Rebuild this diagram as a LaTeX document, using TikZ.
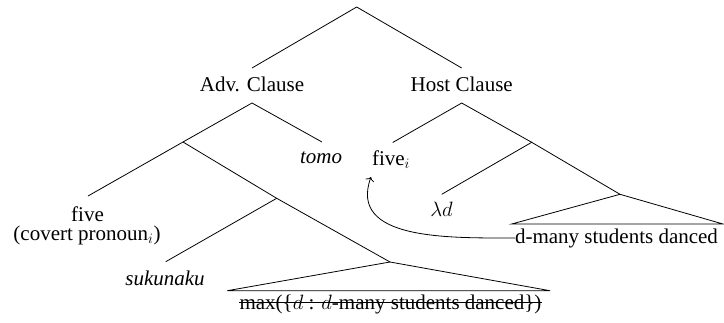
\documentclass[tikz,border=0pt]{standalone}
\usepackage{fontspec}
\setmainfont{Liberation Serif}
\usetikzlibrary{arrows.meta}
\begin{document}
\begin{tikzpicture}[x=1pt,y=-1pt,
  lbl/.style={inner sep=0pt, anchor=base, font=\fontsize{21}{18}\selectfont},
  edge/.style={line width=0.8pt},
  tri/.style={line width=0.8pt},
  strike/.style={line width=0.8pt},
  mvarrow/.style={line width=0.8pt,-{To[length=4pt,width=9pt]}}]
\useasboundingbox (0,0) rectangle (724,322);
% branch points
\coordinate (root) at (356.7,7);
\coordinate (advtop) at (252,68);
\coordinate (hosttop) at (461.7,68);
\coordinate (advapex) at (252,103);
\coordinate (hostapex) at (461.7,103);
\coordinate (advbr) at (183,142);
\coordinate (tomotop) at (322,142);
\coordinate (fivetop) at (88,196);
\coordinate (advbr2) at (276.7,198.3);
\coordinate (suktop) at (165.7,261.7);
\coordinate (maxapex) at (390,262);
\coordinate (maxl) at (227.3,290.7);
\coordinate (maxr) at (550,290.7);
\coordinate (fiveitop) at (392.7,142.5);
\coordinate (hostbr) at (531.7,142.3);
\coordinate (lamtop) at (441.7,194.3);
\coordinate (dmapex) at (620,194.3);
\coordinate (dml) at (511.7,224);
\coordinate (dmr) at (723,224);
\coordinate (arrend) at (371,177);
% labels
\node[lbl] (adv) at (252,91) {Adv. Clause};
\node[lbl] (host) at (461.7,91) {Host Clause};
\node[lbl] (tomo) at (321,163) {\textit{tomo}};
\node[lbl] (fivei) at (391,165) {five$_i$};
\node[lbl] (lam) at (441.5,216) {$\lambda d$};
\node[lbl] (dmany) at (616.5,243) {d-many students danced};
\node[lbl] (five) at (87.5,221) {five};
\node[lbl] (covpro) at (87,240.5) {(covert pronoun$_i$)};
\node[lbl] (suk) at (165,285) {\textit{sukunaku}};
\node[lbl] (max) at (390.5,309) {max(\{$d$ : $d$-many students danced\})};
\draw[strike] ([yshift=6.3pt]max.base west) -- ([yshift=6.3pt]max.base east);
% edges
\draw[edge] (advtop) -- (root) -- (hosttop);
\draw[edge] (advbr) -- (advapex) -- (tomotop);
\draw[edge] (fivetop) -- (advbr) -- (advbr2);
\draw[edge] (suktop) -- (advbr2) -- (maxapex);
\draw[tri] (maxl) -- (maxapex) -- (maxr) -- cycle;
\draw[edge] (fiveitop) -- (hostapex) -- (hostbr);
\draw[edge] (lamtop) -- (hostbr) -- (dmapex);
\draw[tri] (dml) -- (dmapex) -- (dmr) -- cycle;
\draw[mvarrow] (dmany.west) to[out=180,in=-110,looseness=1.1] (arrend);
\end{tikzpicture}
\end{document}
